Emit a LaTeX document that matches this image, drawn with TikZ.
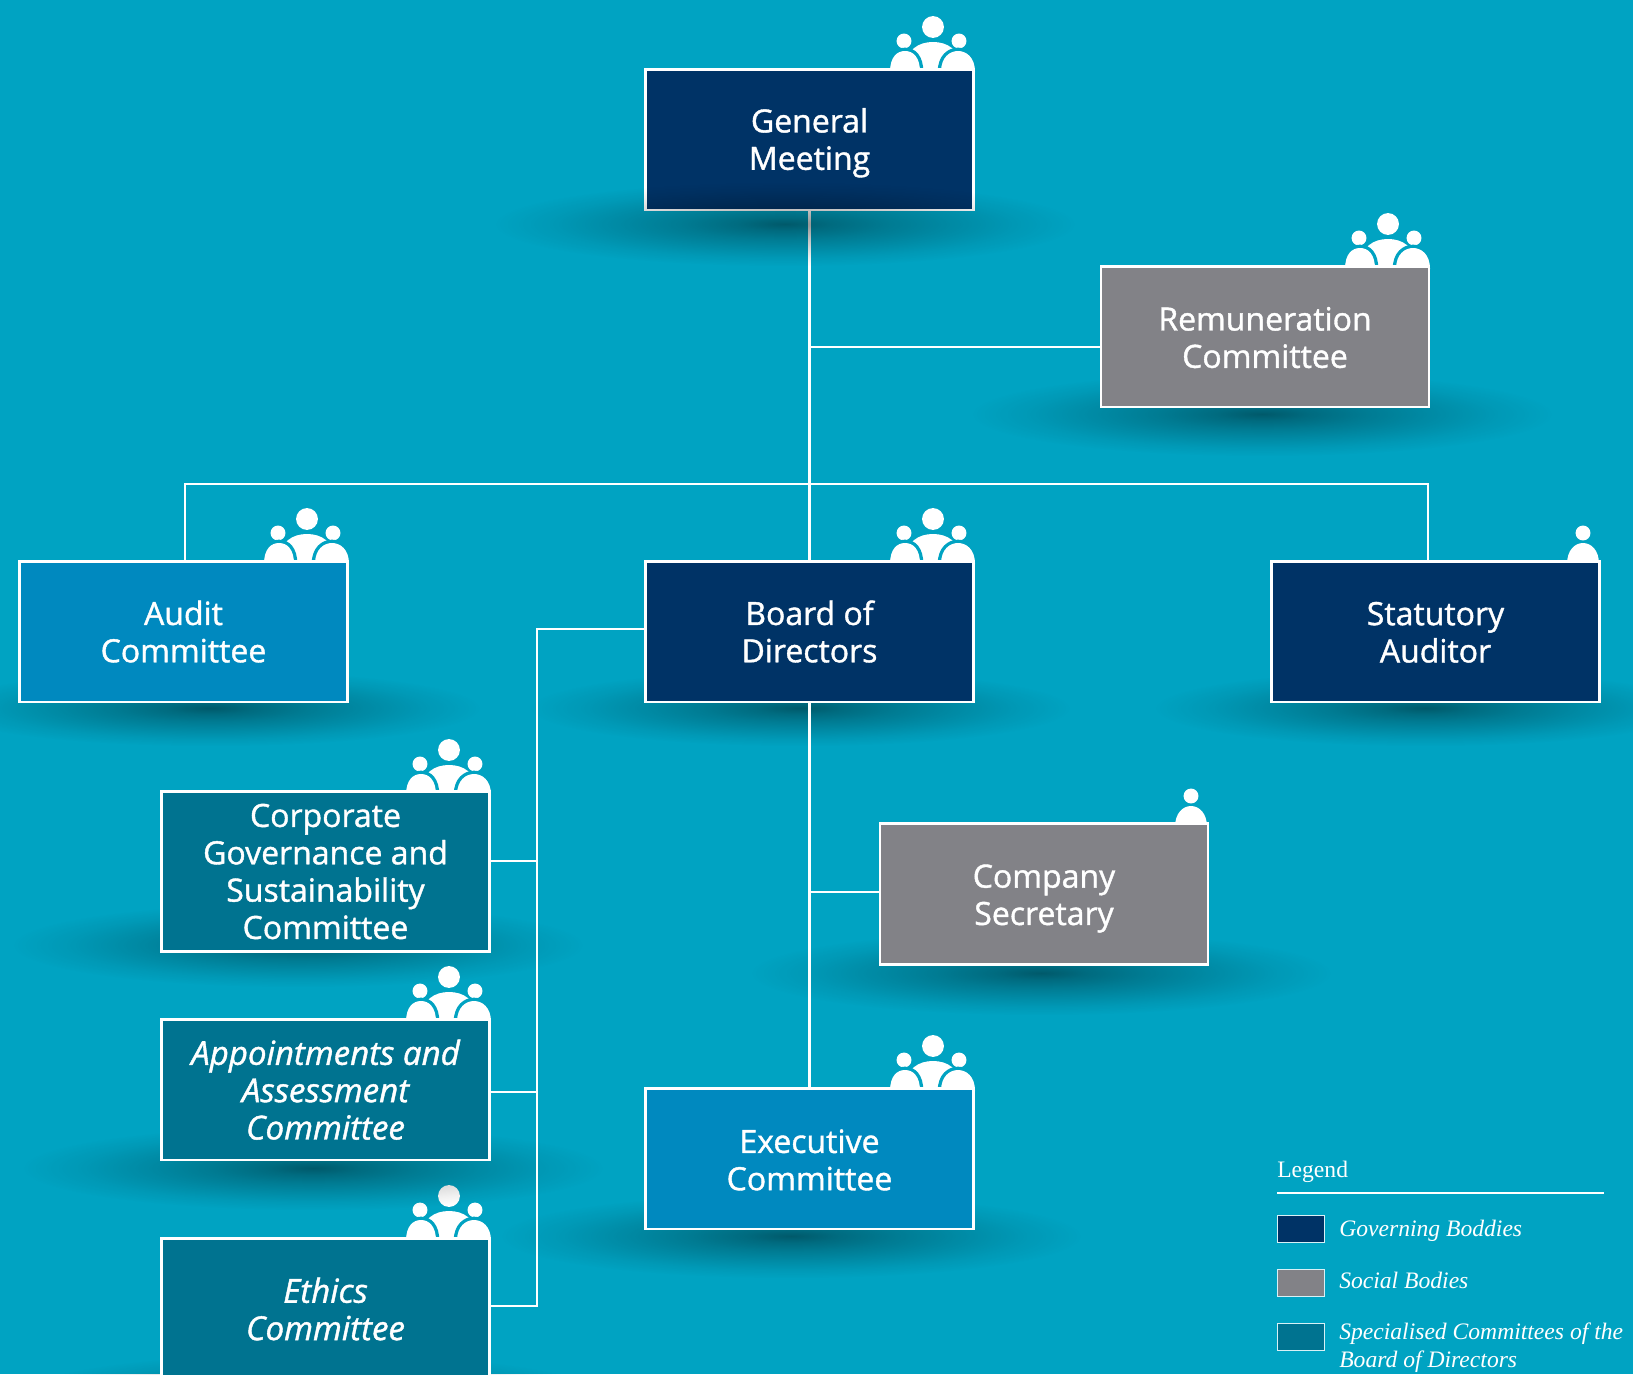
\documentclass[tikz,border=0pt]{standalone}
\usepackage{fontspec}
\setmainfont[FakeBold=1.2]{Open Sans}
\newfontfamily\legendfont{Liberation Serif}
\usetikzlibrary{fadings}
\definecolor{bg}{HTML}{00A3C2}
\definecolor{navy}{HTML}{003366}
\definecolor{greybox}{HTML}{828287}
\definecolor{bluebox}{HTML}{0089BF}
\definecolor{tealbox}{HTML}{007390}
\pgfdeclareradialshading{softsh}{\pgfpointorigin}{color(0bp)=(pgftransparent!55); color(4bp)=(pgftransparent!66); color(9bp)=(pgftransparent!76); color(15bp)=(pgftransparent!86); color(20bp)=(pgftransparent!94); color(25bp)=(pgftransparent!100); color(50bp)=(pgftransparent!100)}
\pgfdeclarefading{softshadow}{\pgfuseshading{softsh}}
\newcommand{\down}[1]{\rule{0pt}{\dimexpr 18.2pt+2\dimexpr #1\relax\relax}}
\newcommand{\itfont}{\fontsize{24.8}{28}\selectfont\itshape}
\tikzset{
  x=0.75pt,y=-0.75pt,
  orgbox/.style={draw=white,line width=2pt,text=white,align=center,inner sep=0pt,
    minimum width=246pt,minimum height=105.5pt,font=\fontsize{24}{28}\selectfont},
  tallbox/.style={orgbox,minimum height=120pt},
  conn/.style={draw=white,line width=2pt},
  keybox/.style={draw=white!85!bg,line width=1.1pt,minimum width=35pt,minimum height=20pt,inner sep=0pt},
  keytext/.style={text=white,anchor=west,inner sep=0pt,font=\legendfont\itshape\fontsize{17.7}{21}\selectfont,align=left},
  bodycut/.style={fill=white,preaction={draw=bg,line width=5pt}},
  peoplethree/.pic={
    \fill[white] (-41,-42) circle[radius=8.2pt];
    \fill[white] (-70,-28) circle[radius=5.6pt];
    \fill[white] (-15,-28) circle[radius=5.6pt];
    \fill[white] (-70,1) .. controls (-68,-20) and (-55,-27) .. (-41,-27) .. controls (-27,-27) and (-14,-20) .. (-12,1) -- cycle;
    \path[bodycut] (-84,3) .. controls (-84,-12) and (-77,-18) .. (-69,-18) .. controls (-61,-18) and (-54,-12) .. (-54,3) -- cycle;
    \path[bodycut] (-33,3) .. controls (-33,-12) and (-24,-18) .. (-16,-18) .. controls (-8,-18) and (1,-12) .. (1,3) -- cycle;
  },
  personone/.pic={
    \fill[white] (-17,-28) circle[radius=5.6pt];
    \fill[white] (-33,3) .. controls (-33,-11) and (-25,-18) .. (-17,-18) .. controls (-9,-18) and (-1,-11) .. (-1,3) -- cycle;
  },
}
\newcommand{\softshadow}[4]{\fill[black,path fading=softshadow] ({#1-#3},{#2-#4}) rectangle ({#1+#3},{#2+#4});}
\begin{document}
\begin{tikzpicture}
\useasboundingbox (0,0) rectangle (1633,1374);
\clip (0,0) rectangle (1633,1374);
\fill[bg] (0,0) rectangle (1633,1374);
% soft shadows behind the boxes
\softshadow{1262}{414}{290}{42}
\softshadow{210}{708}{270}{38}
\softshadow{800}{708}{270}{38}
\softshadow{1425}{708}{270}{38}
\softshadow{298}{945}{285}{42}
\softshadow{1041}{973}{290}{42}
\softshadow{791}{1236}{290}{42}
\softshadow{310}{1395}{290}{42}
% icons under the boxes
\pic at (974,69) {peoplethree};
\pic at (1429,266) {peoplethree};
\pic at (348,561) {peoplethree};
\pic at (974,561) {peoplethree};
\pic at (1600,561) {personone};
\pic at (490,792) {peoplethree};
\pic at (490,1019) {peoplethree};
\pic at (490,1238) {peoplethree};
\pic at (1208,824) {personone};
\pic at (974,1088) {peoplethree};
\softshadow{313}{1168}{290}{42}
% boxes
\node[orgbox,fill=navy] (gm) at (809.5,139.5) {\down{2.5pt}General\\Meeting};
\node[orgbox,fill=greybox] (rem) at (1265,336.5) {\down{0.5pt}Remuneration\\Committee};
\node[orgbox,fill=bluebox] (aud) at (183.5,631.5) {\down{0.1pt}Audit\\Committee};
\node[orgbox,fill=navy] (board) at (809.5,631.5) {\down{0.1pt}Board of\\Directors};
\node[orgbox,fill=navy] (stat) at (1435.5,631.5) {\down{0.2pt}Statutory\\Auditor};
\node[tallbox,fill=tealbox] (corp) at (325.5,871.5) {Corporate\\Governance and\\Sustainability\\Committee};
\node[orgbox,fill=tealbox,font=\itfont] (app) at (325.5,1089.5) {\down{0.5pt}Appointments and\\Assessment\\Committee};
\node[orgbox,fill=tealbox,font=\itfont] (eth) at (325.5,1309) {Ethics\\Committee};
\node[orgbox,fill=greybox] (sec) at (1044,894) {\down{3pt}Company\\Secretary};
\node[orgbox,fill=bluebox] (exec) at (809.5,1158.5) {\down{0.8pt}Executive\\Committee};
% connectors
\coordinate (jrem) at (809.5,347);
\coordinate (barl) at (185,484);
\coordinate (barr) at (1428,484);
\coordinate (trtop) at (537,629);
\coordinate (trbot) at (537,1306);
\coordinate (jcorp) at (537,861);
\coordinate (japp) at (537,1092);
\coordinate (jsec) at (809.5,892);
\draw[conn] (gm.south) -- (board.north);
\draw[conn] (jrem) -- (rem.west |- jrem);
\draw[conn] (barl |- aud.north) -- (barl) -- (barr) -- (barr |- stat.north);
\draw[conn] (board.west |- trtop) -- (trtop) -- (trbot) -- (eth.east |- trbot);
\draw[conn] (corp.east |- jcorp) -- (jcorp);
\draw[conn] (app.east |- japp) -- (japp);
\draw[conn] (board.south) -- (exec.north);
\draw[conn] (jsec) -- (sec.west |- jsec);
% the general meeting shadow also falls over the box foot and the line
\softshadow{785}{224}{290}{42}
% legend
\node[text=white,anchor=base west,inner sep=0pt,font=\legendfont\fontsize{17.7}{20}\selectfont] (legtitle) at (1277,1177) {Legend};
\coordinate (rulel) at (1277,1193);
\coordinate (ruler) at (1604,1193);
\draw[white,line width=0.8pt] (rulel) -- (ruler);
\node[keybox,fill=navy] (k1) at (1301,1229) {};
\node[keybox,fill=greybox] (k2) at (1301,1283) {};
\node[keybox,fill=tealbox] (k3) at (1301,1337) {};
\node[keytext] (t1) at (1339,1231) {Governing Boddies};
\node[keytext] (t2) at (1339,1280) {Social Bodies};
\node[keytext,anchor=north west] (t3) at (1339,1323) {Specialised Committees of the\\Board of Directors};
\end{tikzpicture}
\end{document}
